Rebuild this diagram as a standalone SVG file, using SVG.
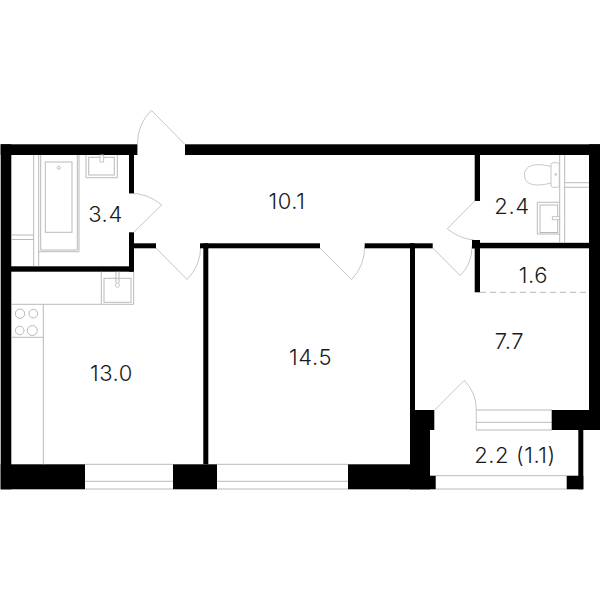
<svg xmlns="http://www.w3.org/2000/svg" width="600" height="600" viewBox="0 0 600 600">
<style>
.w{fill:#000;stroke:none}
.l{fill:none;stroke:#b9b9b9;stroke-width:1}
.d{fill:none;stroke:#b9b9b9;stroke-width:.8}
.f{fill:#fff;stroke:#b9b9b9;stroke-width:.8}
text{font-family:"Inter","Liberation Sans",sans-serif;font-size:22px;font-weight:300;letter-spacing:.6px;fill:#1a1a1a;text-anchor:middle}
</style>
<rect width="600" height="600" fill="#fff"/>
<g id="doors">
<path class="d" d="M185 144.5L151.3 110.3A48 48 0 0 0 137.4 144.5"/>
<path class="d" d="M134 232L161.7 205A48 48 0 0 0 129.5 193.3"/>
<path class="d" d="M156 248L187 279.5A48 48 0 0 0 200.7 246"/>
<path class="d" d="M320 248L351.7 279.5A48 48 0 0 0 364.7 246"/>
<path class="d" d="M474.7 201L447.3 228.7A48 48 0 0 0 474 240"/>
<path class="d" d="M432.7 248L460.3 275.7A42 42 0 0 0 472 246"/>
<path class="d" d="M434.7 410L464.3 380.3A42 42 0 0 1 476.3 410V430"/>
</g>
<g id="windows">
<path class="l" d="M476.3 410H551.7M476.3 422.3H551.7M476.3 430H551.7"/>
<path class="l" d="M85 464.3H173M85 481.3H173M85 489H173"/>
<path class="l" d="M217 464.3H348M217 481.3H348M217 489H348"/>
<path class="l" d="M435.7 475.7H566.7M435.7 489H566.7"/>
</g>
<g id="walls">
<rect class="w" x="0.7" y="144.3" width="136.7" height="10.7"/>
<rect class="w" x="185" y="144.3" width="415" height="10.7"/>
<rect class="w" x="0.7" y="144.3" width="10.6" height="345"/>
<rect class="w" x="589" y="144.3" width="11" height="285.7"/>
<rect class="w" x="129" y="155" width="5" height="38.3"/>
<rect class="w" x="129" y="232.3" width="5" height="39.4"/>
<rect class="w" x="11" y="266.3" width="123" height="5.4"/>
<rect class="w" x="134" y="243.3" width="22" height="5"/>
<rect class="w" x="200" y="243.3" width="120" height="5"/>
<rect class="w" x="364.7" y="243.3" width="68" height="5"/>
<rect class="w" x="203.3" y="243.3" width="5" height="221"/>
<rect class="w" x="410" y="243.3" width="5" height="221"/>
<rect class="w" x="474.7" y="155" width="5.3" height="46"/>
<rect class="w" x="474.7" y="240" width="5.3" height="52.3"/>
<rect class="w" x="472" y="240" width="8" height="8.3"/>
<rect class="w" x="472" y="242.8" width="117" height="5.5"/>
<rect class="w" x="0.7" y="464.3" width="84.3" height="25"/>
<rect class="w" x="173" y="464.3" width="44" height="25"/>
<rect class="w" x="348" y="464.3" width="82" height="25"/>
<rect class="w" x="415" y="410" width="19.3" height="20"/>
<rect class="w" x="410" y="430" width="20" height="45.7"/>
<rect class="w" x="410" y="475.7" width="25.7" height="13.6"/>
<rect class="w" x="551.7" y="410" width="48.3" height="20"/>
<rect class="w" x="578.3" y="430" width="5" height="59.3"/>
<rect class="w" x="566.7" y="475.7" width="16.6" height="13.6"/>
</g>
<g id="bathroom">
<path class="l" d="M38.7 155V266.3M38.7 251.7H79V155M40.7 155V250H77.3V155"/>
<rect class="l" x="45.3" y="162" width="26.7" height="70.3"/>
<circle class="l" cx="58.7" cy="167.7" r="1.5"/>
<path class="l" d="M33.7 155V266.3M11.3 235H33.7M11.3 239.5H33.7"/>
<path class="l" d="M86 155V177.7H117.3V155"/>
<rect class="l" x="88.7" y="157.3" width="25.6" height="17.7"/>
<rect class="f" x="100" y="155" width="3.7" height="7"/>
</g>
<g id="kitchen">
<path class="l" d="M11.3 304.3H133.7V271.7M43.3 304.3V464.3M11.3 337.3H43.3"/>
<circle class="l" cx="20" cy="313.7" r="4.7"/>
<circle class="l" cx="33.3" cy="313.7" r="4.3"/>
<circle class="l" cx="19.7" cy="330.5" r="4.3"/>
<circle class="l" cx="32.3" cy="330.5" r="5"/>
<path class="l" d="M101.3 271.7V304.3"/>
<rect class="l" x="104" y="278.3" width="27" height="24"/>
<path class="l" d="M116 271.7V283M119 271.7V283"/>
<circle class="f" cx="117.4" cy="285.3" r="2"/>
</g>
<g id="wc">
<path class="l" d="M559.7 155V243M564.7 155V243M564.7 182.7H589M564.7 187.3H589"/>
<path class="f" d="M551 166.5C540 163.5 524.5 163 524.5 175C524.5 187 540 186 551 183"/>
<rect class="f" x="551" y="162.7" width="8.3" height="24.6" rx="2"/>
<circle class="l" cx="555.7" cy="174.5" r="0.9"/>
<path class="l" d="M559.7 202.3H537.3V234H559.7"/>
<rect class="l" x="540" y="205" width="17.7" height="27.5"/>
<rect class="f" x="552.3" y="216.7" width="7.4" height="3"/>
</g>
<path id="balcony-edge" d="M480 292.3H589" fill="none" stroke="#b9b9b9" stroke-width="1" stroke-dasharray="6 4"/>
<g id="labels">
<text x="105.5" y="222">3.4</text>
<text x="287" y="208.5">10.1</text>
<text x="512" y="214">2.4</text>
<text x="533.5" y="282.5">1.6</text>
<text x="111.5" y="381">13.0</text>
<text x="310.5" y="365">14.5</text>
<text x="509.5" y="349">7.7</text>
<text x="515" y="463">2.2 (1.1)</text>
</g>
</svg>
